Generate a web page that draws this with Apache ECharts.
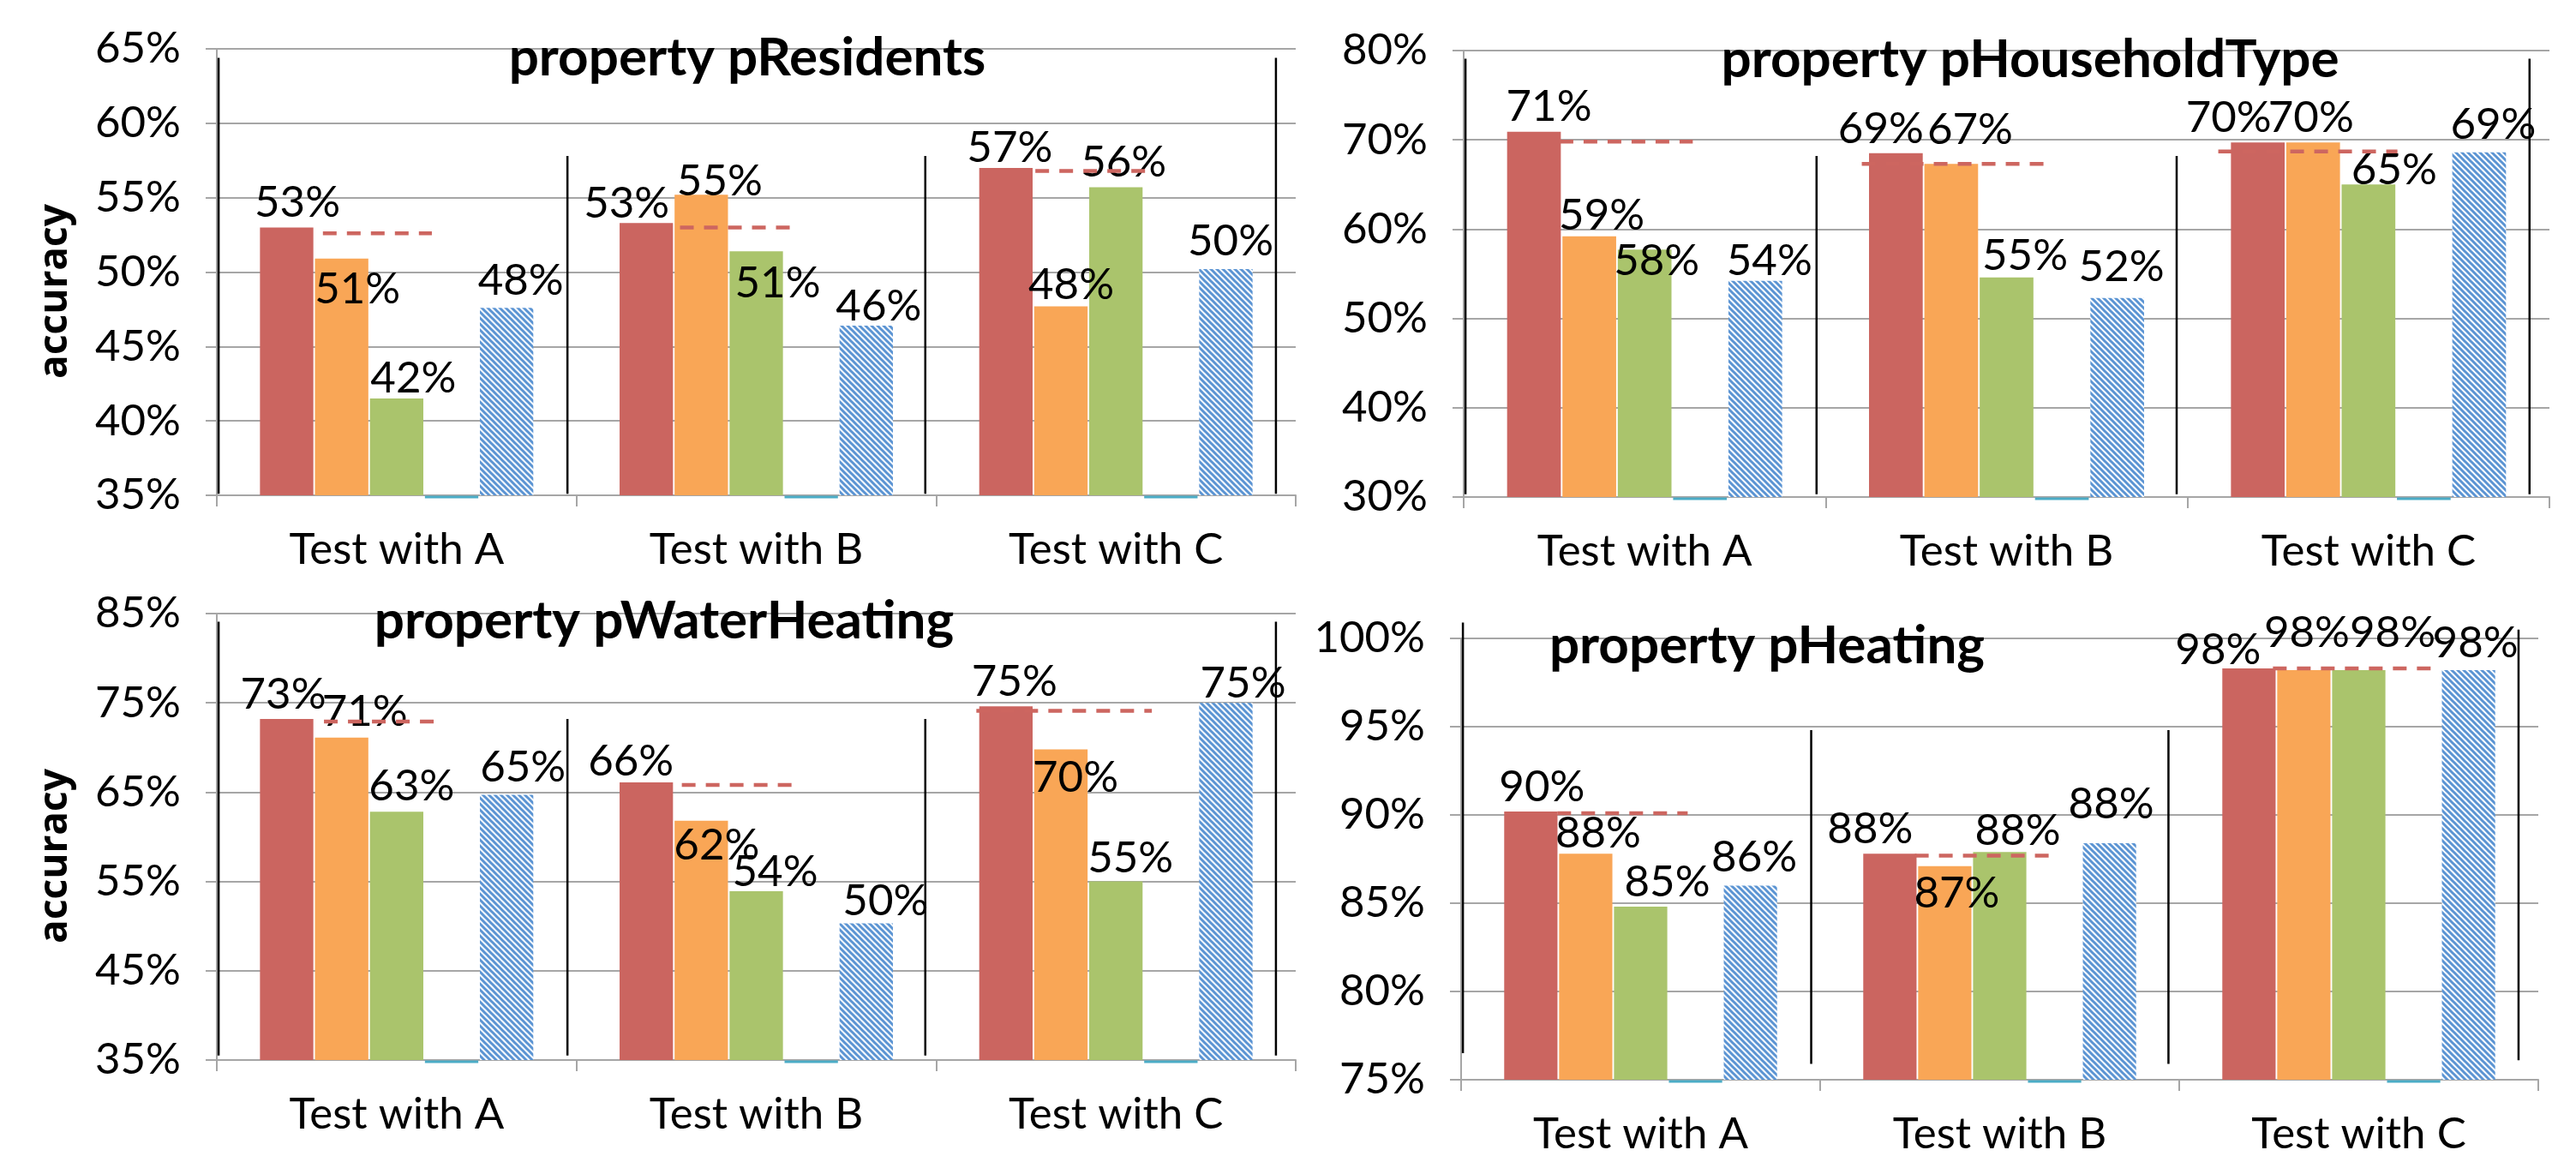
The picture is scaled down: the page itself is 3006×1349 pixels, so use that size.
<!DOCTYPE html>
<html>
<head>
<meta charset="utf-8">
<script src="https://cdn.jsdelivr.net/npm/echarts@6/dist/echarts.min.js"></script>
<style>
html,body{margin:0;padding:0;background:#fff;}
#c{width:3006px;height:1349px;}
</style>
</head>
<body>
<div id="c"></div>
<script>
// ---------------- DATA ----------------
const categories = ['Test with A', 'Test with B', 'Test with C'];
const titles = ['property pResidents', 'property pHouseholdType', 'property pWaterHeating', 'property pHeating'];

// pResidents
const residentsTicks = [35, 40, 45, 50, 55, 60, 65];
const residentsRed = [53.0, 53.3, 57.0];
const residentsOrange = [50.9, 55.2, 47.7];
const residentsGreen = [41.5, 51.4, 55.7];
const residentsCyan = [0, 0, 0];
const residentsBlue = [47.6, 46.4, 50.2];
const residentsRef = [52.6, 53.0, 56.8];
const residentsDivTop = [64.4, 57.8, 57.8, 64.4];
const residentsDivBottom = [35.1, 35.1, 35.1, 35.1];

// pHouseholdType
const householdTicks = [30, 40, 50, 60, 70, 80];
const householdRed = [70.9, 68.5, 69.7];
const householdOrange = [59.2, 67.3, 69.7];
const householdGreen = [57.7, 54.6, 65.0];
const householdCyan = [0, 0, 0];
const householdBlue = [54.2, 52.3, 68.6];
const householdRef = [69.8, 67.3, 68.7];
const householdDivTop = [79.1, 68.2, 68.2, 79.1];
const householdDivBottom = [30.3, 30.3, 30.3, 30.3];

// pWaterHeating
const waterTicks = [35, 45, 55, 65, 75, 85];
const waterRed = [73.2, 66.1, 74.6];
const waterOrange = [71.1, 61.8, 69.8];
const waterGreen = [62.8, 53.9, 55.0];
const waterCyan = [0, 0, 0];
const waterBlue = [64.7, 50.3, 75.0];
const waterRef = [72.9, 65.8, 74.1];
const waterDivTop = [84.1, 73.2, 73.2, 84.1];
const waterDivBottom = [35.5, 35.5, 35.5, 35.5];

// pHeating
const heatingTicks = [75, 80, 85, 90, 95, 100];
const heatingRed = [90.2, 87.8, 98.3];
const heatingOrange = [87.8, 87.1, 98.2];
const heatingGreen = [84.8, 87.9, 98.2];
const heatingCyan = [0, 0, 0];
const heatingBlue = [86.0, 88.4, 98.2];
const heatingRef = [90.1, 87.7, 98.3];
const heatingDivTop = [100.9, 94.8, 94.8, 100.5];
const heatingDivBottom = [76.5, 75.9, 75.9, 76.1];

// ---------------- STYLE ----------------
const COLORS = {red: '#cb6560', orange: '#f9a656', green: '#aac46c', cyan: '#4bacc6', blue: '#5b94d3', ref: '#cd6660'};
const GRID_BOX = [
  {left: 253, top: 57, width: 1259, height: 521},
  {left: 1708, top: 59, width: 1267, height: 521},
  {left: 253, top: 716, width: 1259, height: 521},
  {left: 1705, top: 745, width: 1257, height: 521}
];
const TITLE_POS = [[867, 32], [2364, 34], [770, 689], [2057, 718]];
const SHOW_YNAME = [true, false, true, false];
// label nudges: [dx from bar centre, baseline relative to bar top] for red, orange, green, blue
const LABEL_NUDGE = [
  [[[12.5,-10],[-23,-4],[4.5,-5]], [[18.5,54],[21.5,3],[12,-6]], [[19.5,-5],[25,56],[9,-10]], [[16.5,-13],[14.5,-4],[5.5,-14]]],
  [[[17.5,-11],[-17.5,-10],[-34,-10]], [[14.5,-6],[22,-21],[-2.5,-10]], [[14,32],[21.5,-7],[30,2]], [[16.5,-5],[5,-18],[16.5,-14]]],
  [[[-4,-10],[-18,-6],[10,-10]], [[27,-12],[18,47],[17,52]], [[17.5,-11],[22,-4],[17,-9]], [[19,-13],[22.5,-8],[20,-4]]],
  [[[13,-10],[-23,-10],[-36,-3]], [[14.5,-5],[14,50],[3.5,-25]], [[31,-10],[21,-6],[39.5,-25]], [[4.5,-14],[2,-27],[8,-13]]]
];
const BASELINE_K = 7;
// dashed reference span relative to category centre, in band widths
const REF_SPAN = [
  [[-0.205,0.098],[-0.212,0.095],[-0.224,0.09]],
  [[-0.235,0.133],[-0.40,0.102],[-0.415,0.08]],
  [[-0.202,0.105],[-0.207,0.1],[-0.388,0.1]],
  [[-0.232,0.131],[-0.236,0.141],[-0.239,0.208]]
];
const DIV_FRAC = [0.005, 0.975, 1.97, 2.945];
const BAR_CAT_GAP = 0.24, BAR_GAP = 0.03, BAR_COUNT = 5;
const FONT = 'Lato';
const GREY = '#a6a6a6';

function stripePattern() {
  const n = 7;
  const c = document.createElement('canvas');
  c.width = n; c.height = n;
  const g = c.getContext('2d');
  g.fillStyle = '#ffffff';
  g.fillRect(0, 0, n, n);
  g.strokeStyle = COLORS.blue;
  g.lineWidth = 3.0;
  g.beginPath();
  for (let k = -1; k <= 1; k++) {
    g.moveTo(k * n - 2, -2);
    g.lineTo(k * n + n + 2, n + 2);
  }
  g.stroke();
  return c;
}
const stripes = {image: stripePattern(), repeat: 'repeat'};

const panels = [
  {ticks: residentsTicks, red: residentsRed, orange: residentsOrange, green: residentsGreen, cyan: residentsCyan, blue: residentsBlue, ref: residentsRef, divTop: residentsDivTop, divBottom: residentsDivBottom},
  {ticks: householdTicks, red: householdRed, orange: householdOrange, green: householdGreen, cyan: householdCyan, blue: householdBlue, ref: householdRef, divTop: householdDivTop, divBottom: householdDivBottom},
  {ticks: waterTicks, red: waterRed, orange: waterOrange, green: waterGreen, cyan: waterCyan, blue: waterBlue, ref: waterRef, divTop: waterDivTop, divBottom: waterDivBottom},
  {ticks: heatingTicks, red: heatingRed, orange: heatingOrange, green: heatingGreen, cyan: heatingCyan, blue: heatingBlue, ref: heatingRef, divTop: heatingDivTop, divBottom: heatingDivBottom}
];

const option = {
  animation: false,
  backgroundColor: '#ffffff',
  title: [], grid: [], xAxis: [], yAxis: [], series: []
};

panels.forEach((p, pi) => {
  const min = p.ticks[0], max = p.ticks[p.ticks.length - 1];
  const interval = p.ticks[1] - p.ticks[0];
  option.title.push({
    text: titles[pi], left: TITLE_POS[pi][0], top: TITLE_POS[pi][1], textAlign: 'center', z: 1,
    textStyle: {fontFamily: FONT, fontWeight: 'bold', fontSize: 62, color: '#000'}
  });
  option.grid.push(Object.assign({containLabel: false}, GRID_BOX[pi]));
  option.xAxis.push({
    type: 'category', gridIndex: pi, data: categories,
    axisLine: {show: true, lineStyle: {color: GREY, width: 2}},
    axisTick: {show: true, length: 13, interval: 0, lineStyle: {color: GREY, width: 2}},
    axisLabel: {interval: 0, margin: 38, fontFamily: FONT, fontSize: 51, color: '#000'},
    splitLine: {show: false}
  });
  option.yAxis.push({
    type: 'value', gridIndex: pi, min: min, max: max, interval: interval,
    name: SHOW_YNAME[pi] ? 'accuracy' : '', nameLocation: 'middle', nameGap: 165,
    nameTextStyle: {fontFamily: 'Open Sans', fontWeight: 'bold', fontSize: 46, color: '#000', padding: [0, 45, 0, 0]},
    axisLine: {show: true, lineStyle: {color: GREY, width: 2}},
    axisTick: {show: true, length: 13, lineStyle: {color: GREY, width: 2}},
    axisLabel: {margin: 42, fontFamily: FONT, fontSize: 51, color: '#000', formatter: '{value}%'},
    splitLine: {show: true, lineStyle: {color: GREY, width: 2}}
  });
  const barKeys = ['red', 'orange', 'green', 'cyan', 'blue'];
  barKeys.forEach((key, si) => {
    const isCyan = key === 'cyan';
    const labelIdx = key === 'blue' ? 3 : si;
    const data = p[key].map((v, ci) => {
      if (isCyan) return {value: Math.max(v, min)};
      const nudge = LABEL_NUDGE[pi][labelIdx][ci];
      return {value: v, label: {offset: [nudge[0], nudge[1] + BASELINE_K]}};
    });
    option.series.push({
      type: 'bar', name: key, xAxisIndex: pi, yAxisIndex: pi,
      barCategoryGap: (BAR_CAT_GAP * 100) + '%', barGap: (BAR_GAP * 100) + '%',
      data: data,
      itemStyle: isCyan ? {color: 'rgba(0,0,0,0)'} : {color: key === 'blue' ? stripes : COLORS[key]},
      label: isCyan ? {show: false} : {
        show: true, position: 'top', distance: 0,
        fontFamily: FONT, fontSize: 51, color: '#000',
        formatter: (prm) => Math.round(prm.value) + '%'
      },
      emphasis: {disabled: true}
    });
  });
  // cyan series drawn at the axis floor (its values lie below the axis minimum)
  option.series.push({
    type: 'custom', xAxisIndex: pi, yAxisIndex: pi, z: 1,
    data: p.cyan.map((v, ci) => [ci, Math.max(v, min)]),
    encode: {x: 0, y: 1},
    renderItem: (params, api) => {
      const c = api.coord([api.value(0), api.value(1)]);
      const bw = api.size([1, 0])[0];
      const w = bw * (1 - BAR_CAT_GAP) / (BAR_COUNT + (BAR_COUNT - 1) * BAR_GAP);
      const x0 = c[0] - bw * (1 - BAR_CAT_GAP) / 2 + 3 * w * (1 + BAR_GAP);
      return {type: 'line', shape: {x1: x0, y1: c[1] + 2, x2: x0 + w, y2: c[1] + 2},
        style: {stroke: COLORS.cyan, lineWidth: 3}};
    }
  });
  // dashed reference markers
  option.series.push({
    type: 'custom', xAxisIndex: pi, yAxisIndex: pi, z: 5,
    data: p.ref.map((v, ci) => [ci, v]),
    encode: {x: 0, y: 1},
    renderItem: (params, api) => {
      const c = api.coord([api.value(0), api.value(1)]);
      const bw = api.size([1, 0])[0];
      const span = REF_SPAN[pi][params.dataIndex];
      return {type: 'line', shape: {x1: c[0] + span[0] * bw, y1: c[1], x2: c[0] + span[1] * bw, y2: c[1]},
        style: {stroke: COLORS.ref, lineWidth: 4.5, lineDash: [16, 12]}};
    }
  });
  // black vertical dividers
  option.series.push({
    type: 'custom', xAxisIndex: pi, yAxisIndex: pi, z: 4,
    data: p.divTop.map((t, i) => [0, t, p.divBottom[i]]),
    encode: {x: 0, y: [1, 2]},
    renderItem: (params, api) => {
      const top = api.coord([0, api.value(1)]);
      const bot = api.coord([0, api.value(2)]);
      const bw = api.size([1, 0])[0];
      const x = top[0] - bw / 2 + DIV_FRAC[params.dataIndex] * bw;
      return {type: 'line', shape: {x1: x, y1: top[1], x2: x, y2: bot[1]},
        style: {stroke: '#000', lineWidth: 2.5}};
    }
  });
});

const chart = echarts.init(document.getElementById('c'), null, {renderer: 'canvas', width: 3006, height: 1349});
chart.setOption(option);
</script>
</body>
</html>
